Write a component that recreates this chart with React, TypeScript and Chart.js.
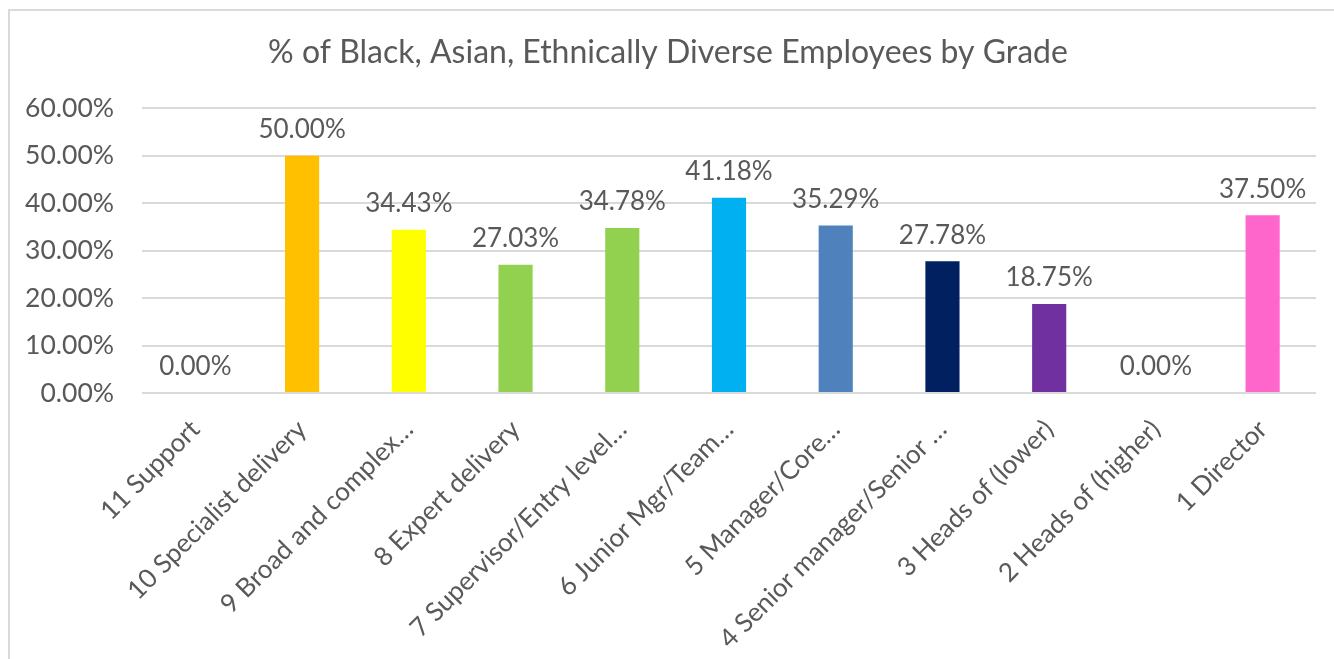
import React, { useEffect, useRef } from "react";
import { Chart, registerables } from "chart.js";

Chart.register(...registerables);

const categories = [
  "11 Support",
  "10 Specialist delivery",
  "9 Broad and complex…",
  "8 Expert delivery",
  "7 Supervisor/Entry level…",
  "6 Junior Mgr/Team…",
  "5 Manager/Core…",
  "4 Senior manager/Senior …",
  "3 Heads of (lower)",
  "2 Heads of (higher)",
  "1 Director",
];
const values = [0, 50.0, 34.43, 27.03, 34.78, 41.18, 35.29, 27.78, 18.75, 0, 37.5];
const barColors = [
  "#A5A5A5",
  "#FFC000",
  "#FFFF00",
  "#92D050",
  "#92D050",
  "#00B0F0",
  "#4F81BD",
  "#002060",
  "#7030A0",
  "#A5A5A5",
  "#FF66CC",
];
const yTicks = [0, 10, 20, 30, 40, 50, 60];
const titleText = "% of Black, Asian, Ethnically Diverse Employees by Grade";

const FONT = "Lato, 'Open Sans', sans-serif";
const TEXT = "#595959";

const dataLabels = {
  id: "dataLabels",
  afterDatasetsDraw(chart: any) {
    const ctx = chart.ctx;
    const meta = chart.getDatasetMeta(0);
    ctx.save();
    ctx.font = `26px ${FONT}`;
    ctx.fillStyle = TEXT;
    ctx.textAlign = "center";
    ctx.textBaseline = "bottom";
    meta.data.forEach((el: any, i: number) => {
      ctx.fillText(values[i].toFixed(2) + "%", el.x, el.y - 13);
    });
    ctx.restore();
  },
};

export default function App() {
  const ref = useRef<HTMLCanvasElement | null>(null);
  useEffect(() => {
    if (!ref.current) return;
    const chart = new Chart(ref.current, {
      type: "bar",
      data: {
        labels: categories,
        datasets: [
          {
            data: values,
            backgroundColor: barColors,
            barPercentage: 0.32,
            categoryPercentage: 1,
          },
        ],
      },
      options: {
        animation: false,
        responsive: true,
        maintainAspectRatio: false,
        layout: { padding: { left: 20, right: 18, top: 0, bottom: 0 } },
        plugins: {
          legend: { display: false },
          tooltip: { enabled: false },
          title: {
            display: true,
            text: titleText,
            color: TEXT,
            font: { family: FONT, size: 32, weight: "normal" },
            padding: { top: 33, bottom: 37 },
          },
        },
        scales: {
          x: {
            grid: { display: false },
            border: { display: false },
            ticks: {
              color: TEXT,
              font: { family: FONT, size: 26 },
              maxRotation: 45,
              minRotation: 45,
              autoSkip: false,
              padding: 13,
            },
            afterFit(scale: any) {
              scale.height = 266;
            },
          },
          y: {
            min: 0,
            max: 60,
            afterBuildTicks(scale: any) {
              scale.ticks = yTicks.map((v) => ({ value: v }));
            },
            grid: { color: "#D9D9D9", lineWidth: 2, drawTicks: false },
            border: { display: false },
            ticks: {
              color: TEXT,
              font: { family: FONT, size: 26.5 },
              padding: 28,
              callback: (v: any) => Number(v).toFixed(2) + "%",
            },
            afterFit(scale: any) {
              scale.width = 122;
            },
          },
        },
      },
      plugins: [dataLabels],
    });
    return () => chart.destroy();
  }, []);
  return (
    <div style={{ position: "absolute", left: 0, top: 0, width: 1334, height: 659, background: "#fff" }}>
      <div
        style={{
          position: "absolute",
          left: 8,
          top: 9,
          width: 1340,
          height: 680,
          border: "2px solid #D9D9D9",
          boxSizing: "border-box",
        }}
      />
      <canvas ref={ref} style={{ position: "absolute", left: 0, top: 0 }} />
    </div>
  );
}
